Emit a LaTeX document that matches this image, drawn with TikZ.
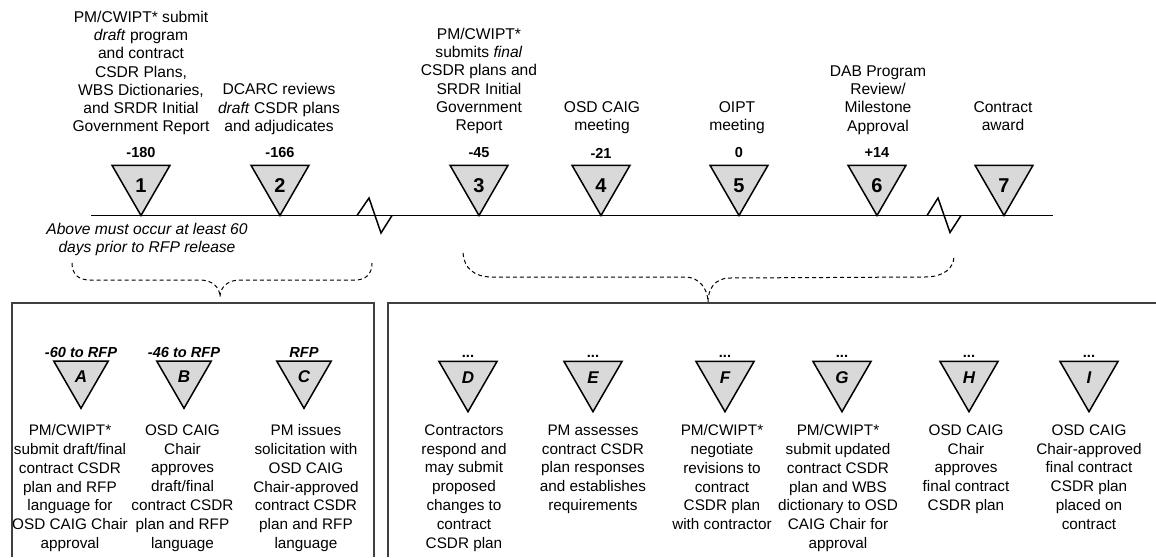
\documentclass[tikz,border=0pt]{standalone}
\usepackage{fontspec}
\setmainfont{Liberation Sans}
\usetikzlibrary{shapes.geometric}
\definecolor{trifill}{RGB}{217,217,217}
\definecolor{boxgray}{RGB}{64,64,64}
\tikzset{
  desc/.style={font=\fontsize{15.6}{18.3}\selectfont, align=center, inner sep=0pt, anchor=north},
  bdesc/.style={font=\fontsize{15.3}{18.8}\selectfont, align=center, inner sep=0pt, anchor=north},
  note/.style={font=\fontsize{15.6}{18.3}\selectfont\itshape, align=center, inner sep=0pt, anchor=north},
  tri/.style={regular polygon, regular polygon sides=3, shape border rotate=180, draw=black,
    line width=1.5pt, fill=trifill, minimum size=67pt, inner sep=0pt},
  trism/.style={tri, minimum size=63pt},
  num/.style={font=\fontsize{20}{20}\selectfont\bfseries, inner sep=0pt},
  lett/.style={font=\fontsize{17}{17}\selectfont\bfseries\itshape, inner sep=0pt},
  day/.style={font=\fontsize{14.5}{14.5}\selectfont\bfseries, inner sep=0pt},
  bday/.style={font=\fontsize{14.6}{14.6}\selectfont\bfseries\itshape, inner sep=0pt},
  dots/.style={font=\fontsize{14.6}{14.6}\selectfont\bfseries, inner sep=0pt, anchor=base},
  timeline/.style={line width=1.5pt, black},
  brace/.style={line width=1pt, dash pattern=on 4pt off 3pt},
  boxline/.style={line width=2pt, boxgray},
}
\begin{document}
\begin{tikzpicture}[x=1pt,y=-1pt]
\useasboundingbox (0,0) rectangle (1156,557);

% timeline
\coordinate (tlL) at (91,215.5);
\coordinate (tlR) at (1053,215.5);
\draw[timeline] (tlL) -- (tlR);
\draw[timeline] (357,215.5) -- (369,198) -- (381,233) -- (392,215.5);
\draw[timeline] (927,215.5) -- (938,198) -- (950,232.5) -- (961,215.5);

% top triangles
\foreach \n/\x/\d in {1/141/-180, 2/280/-166, 3/479/-45, 4/601/-21, 5/739/0, 6/877/+14, 7/1004/{}}{
  \node[tri] (t\n) at (\x,182) {};
  \node[num] (tn\n) at (\x,186) {\n};
  \node[day] (td\n) at (\x,153) {\d};
}

% top descriptions
\node[desc] (d1) at (141,10.6) {PM/CWIPT* submit\\\textit{draft} program\\and contract\\CSDR Plans,\\WBS Dictionaries,\\and SRDR Initial\\Government Report};
\node[desc] (d2) at (279,83.2) {DCARC reviews\\\textit{draft} CSDR plans\\and adjudicates};
\node[desc] (d3) at (479,27.6) {PM/CWIPT*\\submits \textit{final}\\CSDR plans and\\SRDR Initial\\Government\\Report};
\node[desc] (d4) at (602,101.5) {OSD CAIG\\meeting};
\node[desc] (d5) at (737,101.5) {OIPT\\meeting};
\node[desc] (d6) at (878,65.2) {DAB Program\\Review/\\Milestone\\Approval};
\node[desc] (d7) at (1003,101.5) {Contract\\award};

\node[note] (nt) at (147,222.5) {Above must occur at least 60\\days prior to RFP release};

% boxes
\draw[boxline] (12,557) -- (12,303) -- (374,303) -- (374,557);
\draw[boxline] (388,557) -- (388,303) -- (1156,303);
\coordinate (lbtop) at (220,297);
\coordinate (rbtop) at (708,302);

% braces
\draw[brace] (72,263) .. controls (72,274) and (78,280) .. (90,280) -- (200,280)
  .. controls (212,280) and (220,287) .. (lbtop)
  .. controls (220,287) and (228,280) .. (240,280) -- (355,280)
  .. controls (366,280) and (372,274) .. (372,263);
\draw[brace] (463,253) .. controls (464,268) and (474,277) .. (492,277) -- (685,277)
  .. controls (700,277) and (708,290) .. (rbtop)
  .. controls (708,290) and (714,278) .. (730,278) -- (925,277)
  .. controls (944,277) and (954,268) .. (954,256);

% bottom triangles, left box
\foreach \n/\x/\d in {A/81/-60 to RFP, B/184/-46 to RFP, C/304/RFP}{
  \node[trism] (b\n) at (\x,376.8) {};
  \node[lett] (bl\n) at (\x,377) {\n};
  \node[bday] (bd\n) at (\x,352) {\d};
}
% bottom triangles, right box
\foreach \n/\x in {D/468, E/593, F/725, G/842, H/969, I/1089}{
  \node[tri] (b\n) at (\x,378.2) {};
  \node[lett] (bl\n) at (\x,378) {\n};
  \node[dots] (bd\n) at (\x,357) {...};
}

% bottom descriptions
\node[bdesc] (eA) at (70,424.5) {PM/CWIPT*\\submit draft/final\\contract CSDR\\plan and RFP\\language for\\OSD CAIG Chair\\approval};
\node[bdesc] (eB) at (182.5,424.5) {OSD CAIG\\Chair\\approves\\draft/final\\contract CSDR\\plan and RFP\\language};
\node[bdesc] (eC) at (306,424.5) {PM issues\\solicitation with\\OSD CAIG\\Chair-approved\\contract CSDR\\plan and RFP\\language};
\node[bdesc] (eD) at (464,424.5) {Contractors\\respond and\\may submit\\proposed\\changes to\\contract\\CSDR plan};
\node[bdesc] (eE) at (593,424.5) {PM assesses\\contract CSDR\\plan responses\\and establishes\\requirements};
\node[bdesc] (eF) at (722,424.5) {PM/CWIPT*\\negotiate\\revisions to\\contract\\CSDR plan\\with contractor};
\node[bdesc] (eG) at (838,424.5) {PM/CWIPT*\\submit updated\\contract CSDR\\plan and WBS\\dictionary to OSD\\CAIG Chair for\\approval};
\node[bdesc] (eH) at (966,424.5) {OSD CAIG\\Chair\\approves\\final contract\\CSDR plan};
\node[bdesc] (eI) at (1089,424.5) {OSD CAIG\\Chair-approved\\final contract\\CSDR plan\\placed on\\contract};
\end{tikzpicture}
\end{document}
